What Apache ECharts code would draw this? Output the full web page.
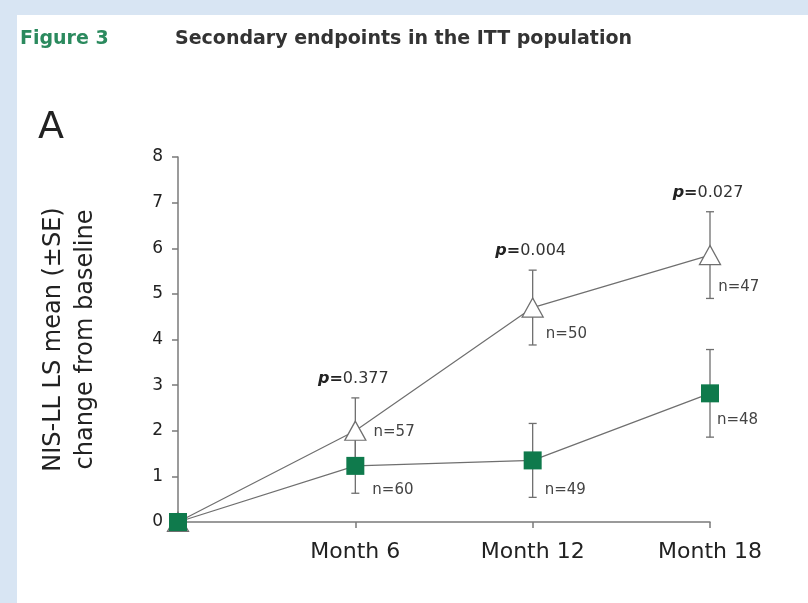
<!DOCTYPE html>
<html>
<head>
<meta charset="utf-8">
<script src="https://cdn.jsdelivr.net/npm/echarts@6/dist/echarts.min.js"></script>
<style>
  html, body { margin: 0; padding: 0; width: 808px; height: 603px; overflow: hidden;
    background: #d8e5f3; }
  #panel { position: absolute; left: 17px; top: 15px; width: 791px; height: 588px; background: #ffffff; }
</style>
</head>
<body>
<div id="panel"></div>
<script>
// Visit months on the x axis and the label shown under each tick
const months = [0, 6, 12, 18];
const monthTickLabels = ['', 'Month 6', 'Month 12', 'Month 18'];

// Open triangles: LS mean change and standard error
const triangleMean = [0, 2.0, 4.7, 5.85];
const triangleSE = [0, 0.72, 0.82, 0.95];
const triangleN = [null, 57, 50, 47];

// Filled squares: LS mean change and standard error
const squareMean = [0, 1.23, 1.35, 2.82];
const squareSE = [0, 0.6, 0.81, 0.96];
const squareN = [null, 60, 49, 48];

// Between-group p values at each visit
const pValues = [null, '0.377', '0.004', '0.027'];

// y axis range
const yMin = 0, yMax = 8, yStep = 1;

const FONT = 'DejaVu Sans';
const GREEN = '#0f7a4c';
const LINE_GREY = '#7a7a7a';

// label offsets for the n= annotations (style only)
const triangleNOffset = [null, [2, 1], [-3, 27], [-8, 32]];
const squareNOffset = [null, [3, 24], [-2, 30], [-7, 27]];

function pointData(mean, nArr, offsets) {
  return months.map((m, i) => {
    const d = { value: [m, mean[i]] };
    if (nArr[i] != null) {
      d.label = { show: true, position: 'right', offset: offsets[i], formatter: 'n=' + nArr[i] };
    }
    return d;
  });
}

function errorData(mean, se, pArr) {
  return months.map((m, i) => [m, mean[i], se[i], pArr ? (pArr[i] || '') : '']);
}

function renderErrorBar(params, api) {
  const x = api.value(0), m = api.value(1), se = api.value(2);
  const p = api.value(3);
  if (!se) return null;
  const top = api.coord([x, m + se]);
  const bot = api.coord([x, m - se]);
  const cap = 4;
  const lineStyle = { stroke: '#6f6f6f', lineWidth: 1.3 };
  const children = [
    { type: 'line', shape: { x1: top[0], y1: top[1], x2: bot[0], y2: bot[1] }, style: lineStyle },
    { type: 'line', shape: { x1: top[0] - cap, y1: top[1], x2: top[0] + cap, y2: top[1] }, style: lineStyle },
    { type: 'line', shape: { x1: bot[0] - cap, y1: bot[1], x2: bot[0] + cap, y2: bot[1] }, style: lineStyle }
  ];
  if (p) {
    children.push({
      type: 'text',
      x: top[0] - 2, y: top[1] - 19,
      style: {
        text: '{b|p=}{v|' + p + '}',
        align: 'center', verticalAlign: 'middle',
        rich: {
          b: { fontFamily: FONT, fontSize: 16, fontWeight: 'bold', fontStyle: 'italic', fill: '#222' },
          v: { fontFamily: FONT, fontSize: 16, fill: '#333' }
        }
      }
    });
  }
  return { type: 'group', children };
}

const chart = echarts.init(document.getElementById('panel'), null, { renderer: 'canvas' });

chart.setOption({
  animation: false,
  backgroundColor: '#ffffff',
  title: [
    { text: 'Figure 3', left: 3, top: 15, padding: 0,
      textStyle: { fontFamily: FONT, fontSize: 19, fontWeight: 'bold', color: '#2b8a5e' } },
    { text: 'Secondary endpoints in the ITT population', left: 158, top: 15, padding: 0,
      textStyle: { fontFamily: FONT, fontSize: 19, fontWeight: 'bold', color: '#333' } },
    { text: 'A', left: 21, top: 94, padding: 0,
      textStyle: { fontFamily: FONT, fontSize: 38, fontWeight: 'normal', color: '#222' } }
  ],
  grid: { left: 161, top: 142, width: 532, height: 365, containLabel: false },
  xAxis: {
    type: 'value', min: 0, max: 18, interval: 6,
    axisLine: { show: true, lineStyle: { color: LINE_GREY, width: 1.5 } },
    axisTick: { show: true, length: 6, lineStyle: { color: LINE_GREY, width: 1.5 } },
    splitLine: { show: false },
    axisLabel: {
      margin: 19, fontFamily: FONT, fontSize: 22, color: '#222',
      formatter: v => monthTickLabels[months.indexOf(v)] || ''
    }
  },
  yAxis: {
    type: 'value', min: yMin, max: yMax, interval: yStep,
    name: 'NIS-LL LS mean (±SE)\nchange from baseline',
    nameLocation: 'middle', nameRotate: 90, nameGap: 76,
    nameTextStyle: { fontFamily: FONT, fontSize: 24, color: '#222', lineHeight: 32 },
    axisLine: { show: true, lineStyle: { color: LINE_GREY, width: 1.5 } },
    axisTick: { show: true, length: 6, lineStyle: { color: LINE_GREY, width: 1.5 } },
    splitLine: { show: false },
    axisLabel: { margin: 15, fontFamily: FONT, fontSize: 17, color: '#222' }
  },
  series: [
    {
      type: 'custom', name: 'triangleError', z: 2,
      renderItem: renderErrorBar,
      data: errorData(triangleMean, triangleSE, pValues),
      encode: { x: 0, y: 1 }
    },
    {
      type: 'custom', name: 'squareError', z: 2,
      renderItem: renderErrorBar,
      data: errorData(squareMean, squareSE, null),
      encode: { x: 0, y: 1 }
    },
    {
      type: 'line', name: 'triangle', z: 3,
      data: pointData(triangleMean, triangleN, triangleNOffset),
      symbol: 'triangle', symbolSize: [21, 19],
      lineStyle: { color: '#6f6f6f', width: 1.2 },
      itemStyle: { color: '#ffffff', borderColor: '#6f6f6f', borderWidth: 1.3 },
      label: { fontFamily: FONT, fontSize: 15, color: '#444' }
    },
    {
      type: 'line', name: 'square', z: 4,
      data: pointData(squareMean, squareN, squareNOffset),
      symbol: 'rect', symbolSize: 18,
      lineStyle: { color: '#6f6f6f', width: 1.2 },
      itemStyle: { color: GREEN, borderColor: GREEN, borderWidth: 0 },
      label: { fontFamily: FONT, fontSize: 15, color: '#444' }
    }
  ]
});
</script>
</body>
</html>
